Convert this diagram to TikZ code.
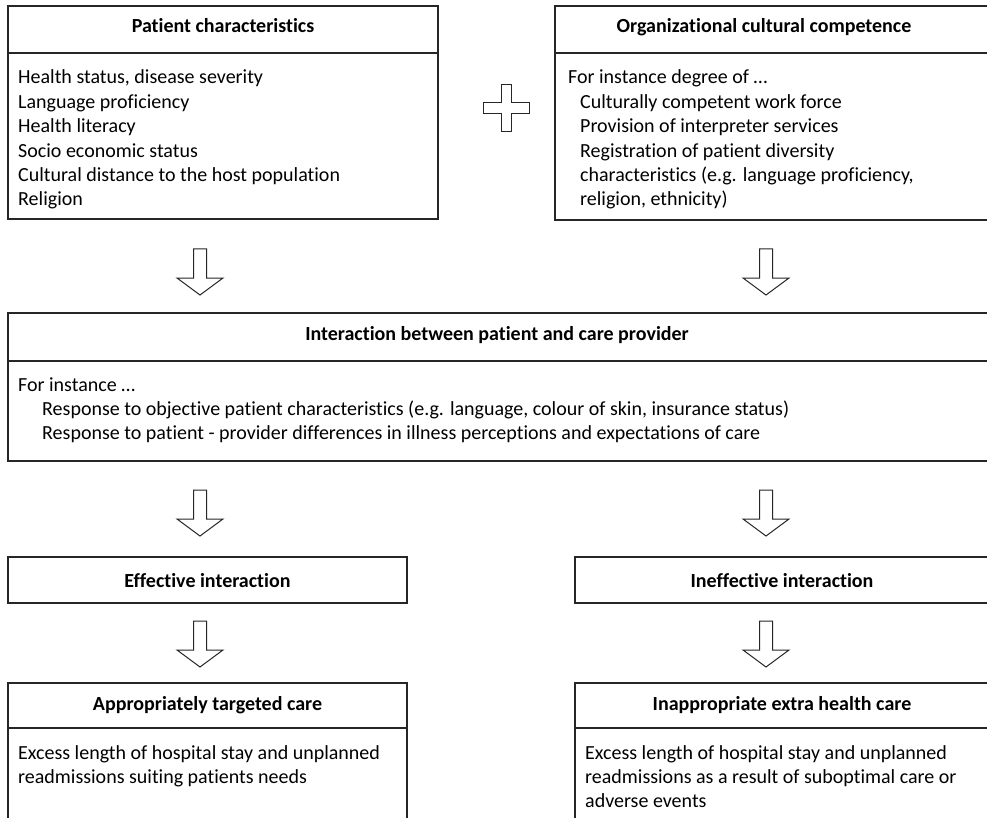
\documentclass[tikz,border=0pt]{standalone}
\usepackage{fontspec}
\setmainfont{Carlito}[Ligatures=NoCommon]
\begin{document}
\begin{tikzpicture}[x=1pt,y=-1pt,
  boxline/.style={draw=black!85,line width=1.1pt},
  box/.style={boxline,anchor=north west,inner sep=0pt,outer sep=0pt},
  ttl/.style={anchor=base,inner sep=0pt,font=\fontsize{20}{24.4}\selectfont\bfseries},
  txt/.style={anchor=base west,inner sep=0pt,font=\fontsize{20}{24.4}\selectfont},
  arrowshape/.style={draw=black!85,line width=1pt,fill=white,line join=miter},
  downarrow/.pic={\path[arrowshape] (-6.5,0) -- (6.5,0) -- (6.5,29) -- (23,29) -- (0,46) -- (-23,29) -- (-6.5,29) -- cycle;},
  plusshape/.pic={\path[arrowshape] (-5,-23.5) -- (5,-23.5) -- (5,-5.5) -- (23,-5.5) -- (23,5.5) -- (5,5.5) -- (5,23.5) -- (-5,23.5) -- (-5,5.5) -- (-23,5.5) -- (-23,-5.5) -- (-5,-5.5) -- cycle;}
]
\useasboundingbox (0,0) rectangle (987,818);
\clip (0,0) rectangle (987,818);
\fill[white] (0,0) rectangle (987,818);

% Patient characteristics
\node[box,minimum width=430pt,minimum height=213pt] (pc) at (8,6) {};
\draw[boxline] (pc.west |- 0,53) -- (pc.east |- 0,53);
\node[ttl] (pct) at (223,33) {Patient characteristics};
\foreach \t [count=\i] in {{Health status, disease severity},{Language proficiency},{Health literacy},{Socio economic status},{Cultural distance to the host population},{Religion}}
  \node[txt] (pcl\i) at (18,{84+24.4*(\i-1)}) {\t};

% Plus
\pic at (506,108.5) {plusshape};

% Organizational cultural competence
\node[box,minimum width=440pt,minimum height=214pt] (oc) at (555,6) {};
\draw[boxline] (oc.west |- 0,53) -- (oc.east |- 0,53);
\node[ttl] (oct) at (764,33) {Organizational cultural competence};
\node[txt] (ocl0) at (568,84) {For instance degree of …};
\foreach \t [count=\i] in {{Culturally competent work force},{Provision of interpreter services},{Registration of patient diversity},{characteristics (e.g. language proficiency,},{religion, ethnicity)}}
  \node[txt] (ocl\i) at (580,{84+24.4*\i}) {\t};

% arrows row 1
\pic at (200,249) {downarrow};
\pic at (766,249) {downarrow};

% Interaction
\node[box,minimum width=990pt,minimum height=148pt] (ia) at (8,313) {};
\draw[boxline] (ia.west |- 0,361) -- (ia.east |- 0,361);
\node[ttl] (iat) at (497,340) {Interaction between patient and care provider};
\node[txt] (ial0) at (18,391) {For instance …};
\node[txt] (ial1) at (42,415.4) {Response to objective patient characteristics (e.g. language, colour of skin, insurance status)};
\node[txt] (ial2) at (42,439.8) {Response to patient - provider differences in illness perceptions and expectations of care};

% arrows row 2
\pic at (200,490) {downarrow};
\pic at (766,490) {downarrow};

% Effective / Ineffective
\node[box,minimum width=399pt,minimum height=46pt] (ef) at (8,557) {};
\node[ttl] (eft) at (207.5,587) {Effective interaction};
\node[box,minimum width=420pt,minimum height=46pt] (ie) at (575,557) {};
\node[ttl] (iet) at (782,587) {Ineffective interaction};

% arrows row 3
\pic at (200,621) {downarrow};
\pic at (766,621) {downarrow};

% Appropriately targeted care
\node[box,minimum width=399pt,minimum height=160pt] (ap) at (8,683) {};
\draw[boxline] (ap.west |- 0,728) -- (ap.east |- 0,728);
\node[ttl] (apt) at (207.5,710) {Appropriately targeted care};
\node[txt] (apl1) at (18,759) {Excess length of hospital stay and unplanned};
\node[txt] (apl2) at (18,783.4) {readmissions suiting patients needs};

% Inappropriate extra health care
\node[box,minimum width=420pt,minimum height=160pt] (in) at (575,683) {};
\draw[boxline] (in.west |- 0,728) -- (in.east |- 0,728);
\node[ttl] (int) at (782,710) {Inappropriate extra health care};
\node[txt] (inl1) at (585,759) {Excess length of hospital stay and unplanned};
\node[txt] (inl2) at (585,783.4) {readmissions as a result of suboptimal care or};
\node[txt] (inl3) at (585,807.8) {adverse events};
\end{tikzpicture}
\end{document}
